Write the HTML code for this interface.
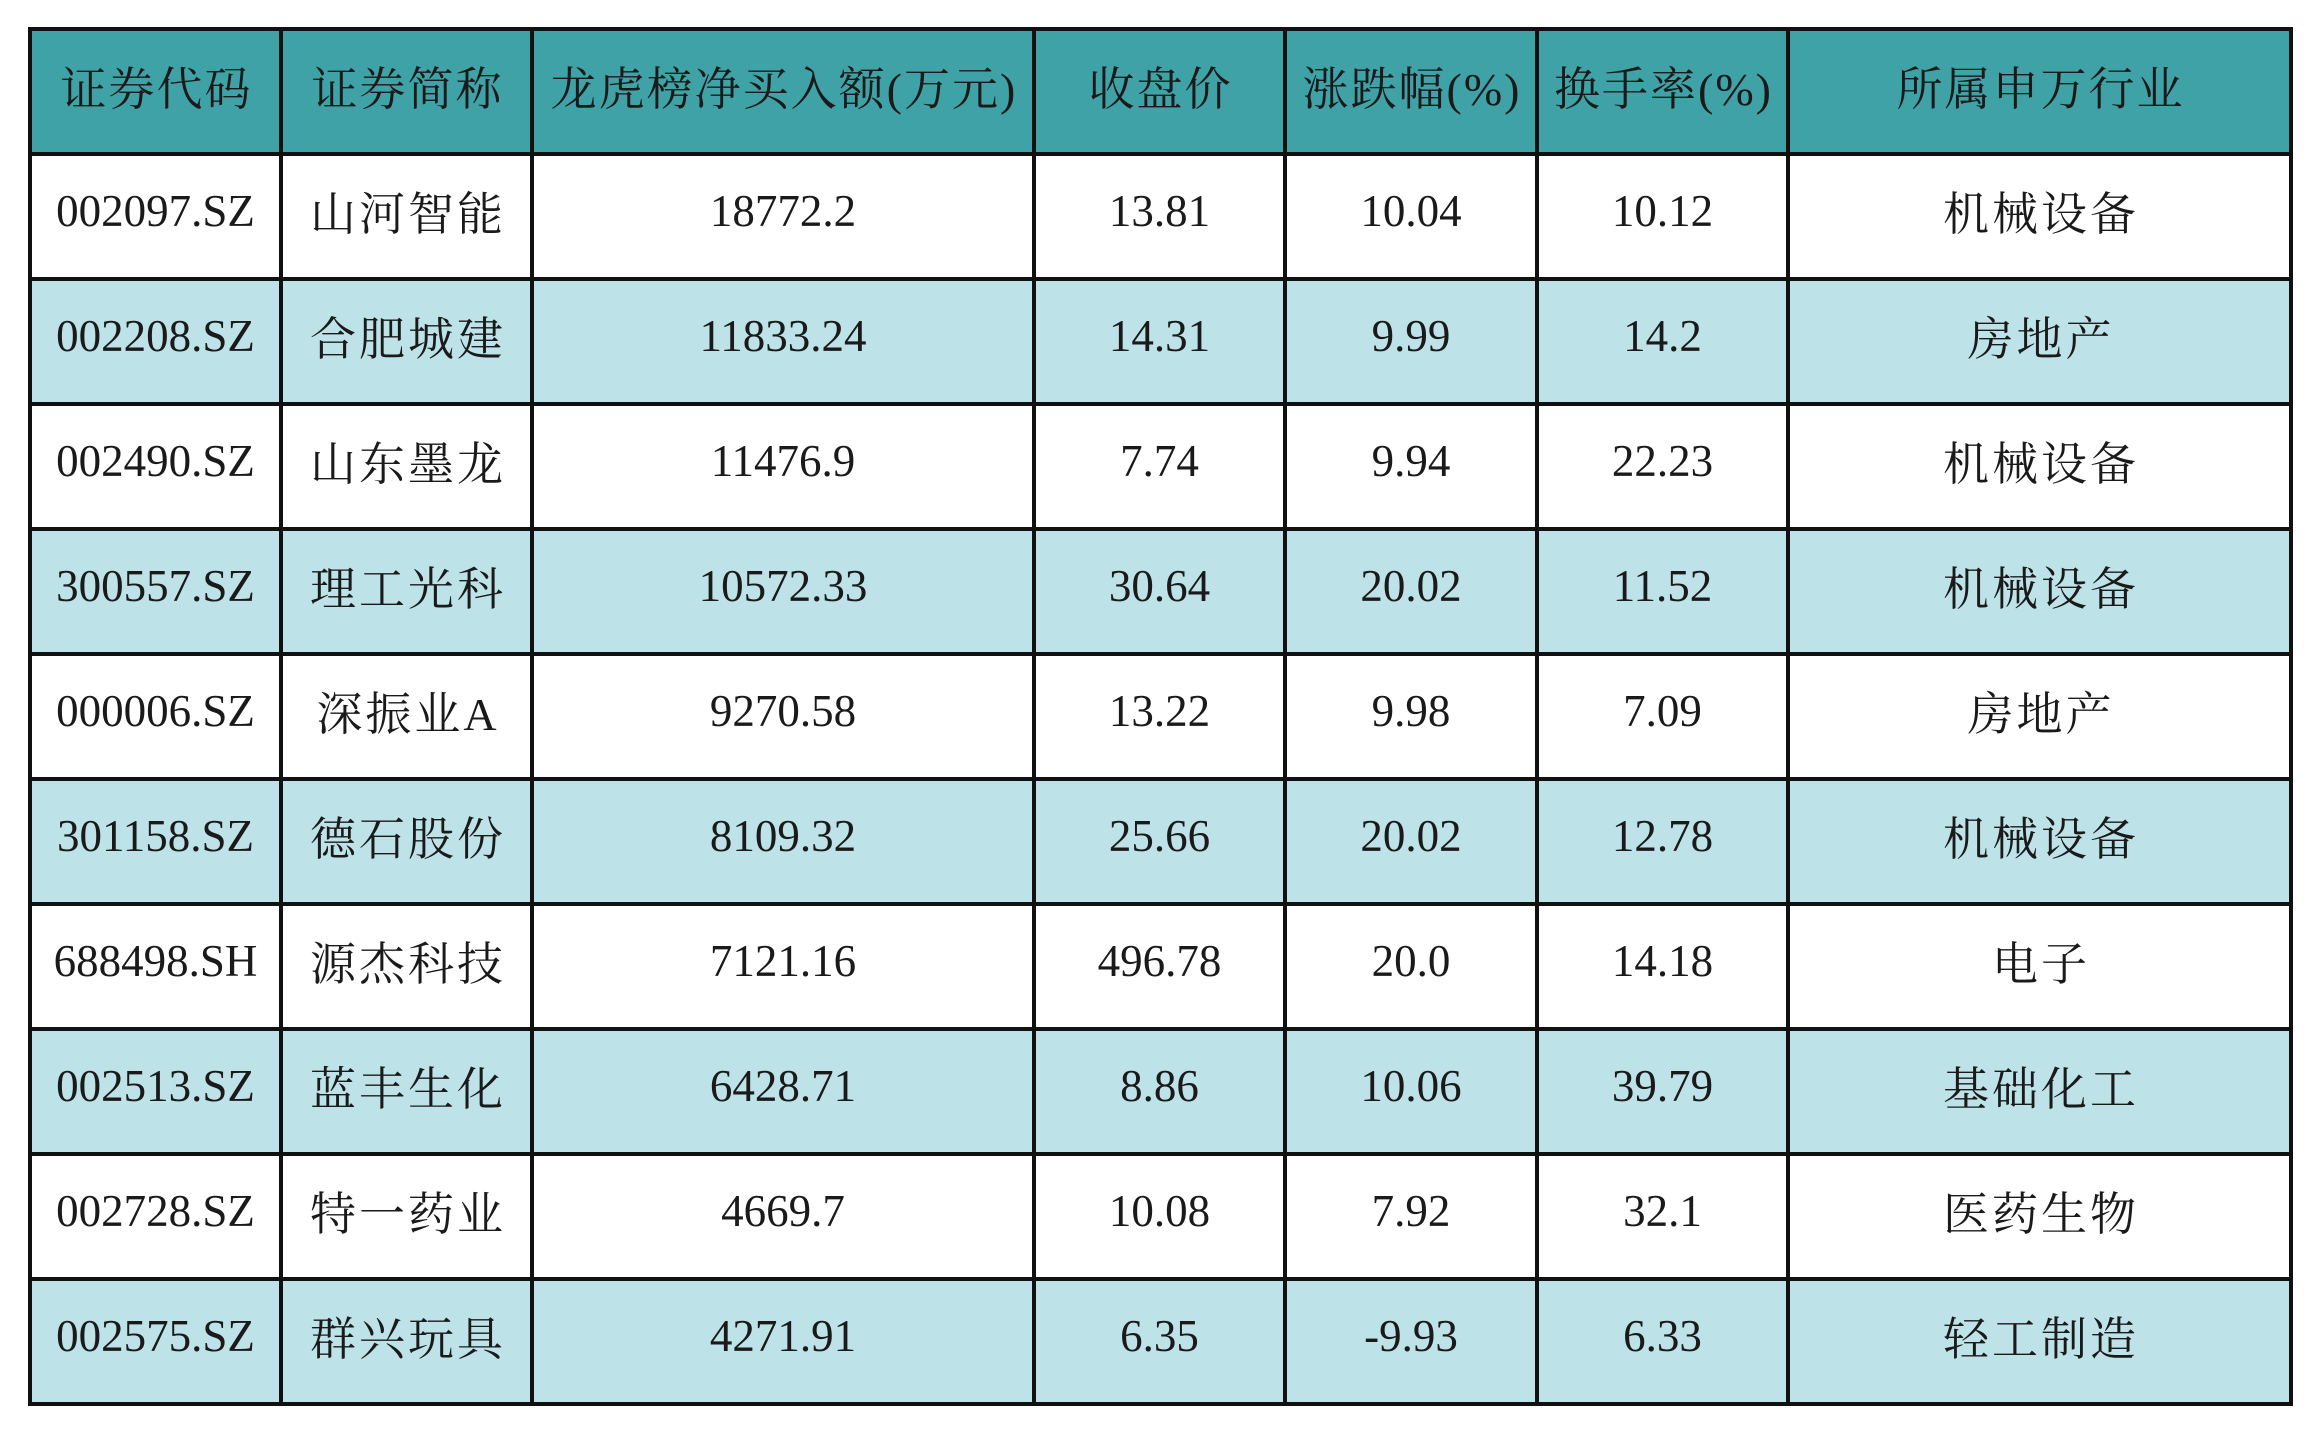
<!DOCTYPE html>
<html>
<head>
<meta charset="utf-8">
<style>
html,body{margin:0;padding:0;}
body{width:2319px;height:1434px;background:#fff;position:relative;overflow:hidden;
font-family:"Liberation Serif","Noto Serif CJK SC",serif;color:#1a1a1a;}
.row{position:absolute;left:30px;width:2261px;height:125px;display:grid;
grid-template-columns:251px 251px 502px 251px 252px 251px 503px;}
.row div{display:flex;align-items:center;justify-content:center;white-space:nowrap;box-sizing:border-box;}
.h{background:#3fa2a6;}
.h div{font-size:46px;letter-spacing:2px;padding-left:2px;padding-bottom:11px;}
.w{background:#ffffff;}
.b{background:#bde2e8;}
.n{font-size:45px;padding-bottom:12px;}
.c{font-size:46px;letter-spacing:3px;padding-left:3px;padding-bottom:12px;}
.v{position:absolute;top:27px;width:4px;height:1379px;background:#111;}
.hl{position:absolute;left:28px;width:2265px;height:4px;background:#111;}
</style>
</head>
<body>
<div class="row h" style="top:29px">
<div>证券代码</div><div>证券简称</div><div>龙虎榜净买入额(万元)</div><div>收盘价</div><div>涨跌幅(%)</div><div>换手率(%)</div><div>所属申万行业</div>
</div>
<div class="row w" style="top:154px">
<div class="n">002097.SZ</div><div class="c">山河智能</div><div class="n">18772.2</div><div class="n">13.81</div><div class="n">10.04</div><div class="n">10.12</div><div class="c">机械设备</div>
</div>
<div class="row b" style="top:279px">
<div class="n">002208.SZ</div><div class="c">合肥城建</div><div class="n">11833.24</div><div class="n">14.31</div><div class="n">9.99</div><div class="n">14.2</div><div class="c">房地产</div>
</div>
<div class="row w" style="top:404px">
<div class="n">002490.SZ</div><div class="c">山东墨龙</div><div class="n">11476.9</div><div class="n">7.74</div><div class="n">9.94</div><div class="n">22.23</div><div class="c">机械设备</div>
</div>
<div class="row b" style="top:529px">
<div class="n">300557.SZ</div><div class="c">理工光科</div><div class="n">10572.33</div><div class="n">30.64</div><div class="n">20.02</div><div class="n">11.52</div><div class="c">机械设备</div>
</div>
<div class="row w" style="top:654px">
<div class="n">000006.SZ</div><div class="c">深振业A</div><div class="n">9270.58</div><div class="n">13.22</div><div class="n">9.98</div><div class="n">7.09</div><div class="c">房地产</div>
</div>
<div class="row b" style="top:779px">
<div class="n">301158.SZ</div><div class="c">德石股份</div><div class="n">8109.32</div><div class="n">25.66</div><div class="n">20.02</div><div class="n">12.78</div><div class="c">机械设备</div>
</div>
<div class="row w" style="top:904px">
<div class="n">688498.SH</div><div class="c">源杰科技</div><div class="n">7121.16</div><div class="n">496.78</div><div class="n">20.0</div><div class="n">14.18</div><div class="c">电子</div>
</div>
<div class="row b" style="top:1029px">
<div class="n">002513.SZ</div><div class="c">蓝丰生化</div><div class="n">6428.71</div><div class="n">8.86</div><div class="n">10.06</div><div class="n">39.79</div><div class="c">基础化工</div>
</div>
<div class="row w" style="top:1154px">
<div class="n">002728.SZ</div><div class="c">特一药业</div><div class="n">4669.7</div><div class="n">10.08</div><div class="n">7.92</div><div class="n">32.1</div><div class="c">医药生物</div>
</div>
<div class="row b" style="top:1279px">
<div class="n">002575.SZ</div><div class="c">群兴玩具</div><div class="n">4271.91</div><div class="n">6.35</div><div class="n">-9.93</div><div class="n">6.33</div><div class="c">轻工制造</div>
</div>

<div class="hl" style="top:27px"></div>
<div class="hl" style="top:152px"></div>
<div class="hl" style="top:277px"></div>
<div class="hl" style="top:402px"></div>
<div class="hl" style="top:527px"></div>
<div class="hl" style="top:652px"></div>
<div class="hl" style="top:777px"></div>
<div class="hl" style="top:902px"></div>
<div class="hl" style="top:1027px"></div>
<div class="hl" style="top:1152px"></div>
<div class="hl" style="top:1277px"></div>
<div class="hl" style="top:1402px"></div>

<div class="v" style="left:28px"></div>
<div class="v" style="left:279px"></div>
<div class="v" style="left:530px"></div>
<div class="v" style="left:1032px"></div>
<div class="v" style="left:1283px"></div>
<div class="v" style="left:1535px"></div>
<div class="v" style="left:1786px"></div>
<div class="v" style="left:2289px"></div>
</body>
</html>
